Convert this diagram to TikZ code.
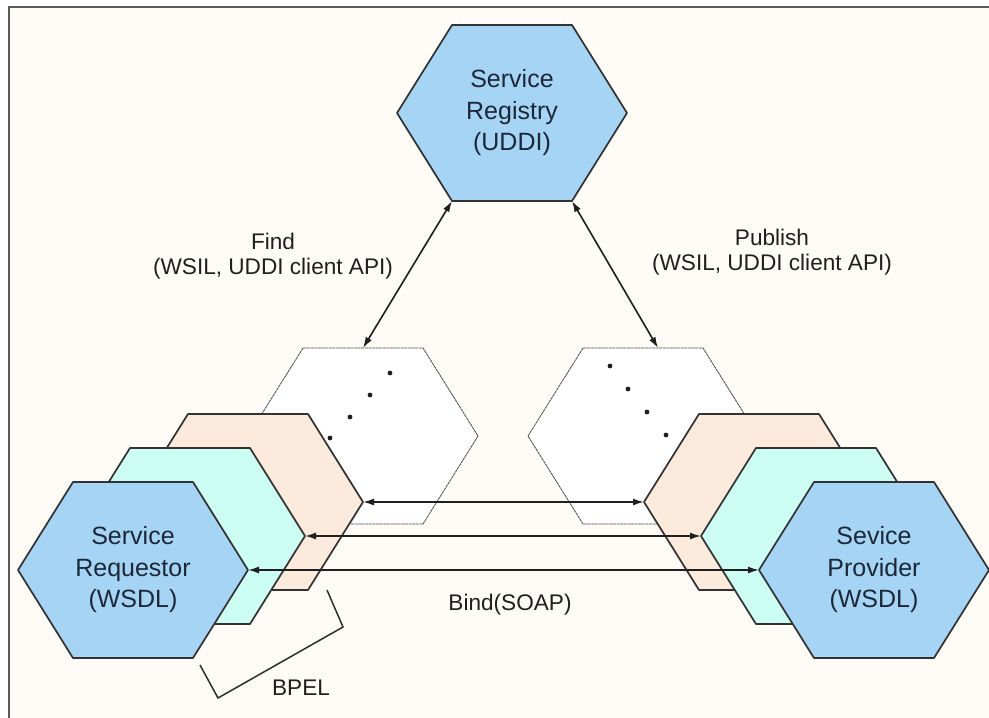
\documentclass[tikz,border=0pt]{standalone}
\usepackage{fontspec}
\setmainfont{Liberation Sans}
\usetikzlibrary{calc,arrows.meta}
\definecolor{bgcream}{RGB}{255,252,247}
\definecolor{hexblue}{RGB}{166,212,245}
\definecolor{hexcyan}{RGB}{205,254,244}
\definecolor{hexpeach}{RGB}{252,234,220}
\definecolor{hexline}{RGB}{50,50,50}
\definecolor{hextxt}{RGB}{28,40,55}
\definecolor{frameline}{RGB}{90,90,90}
\newcommand\drawhex[4]{%
  \coordinate (#1) at (#2,#3);
  \draw[#4] ($(#1)+(-115,0)$) coordinate (#1-W)
    -- ($(#1)+(-60,-88)$) coordinate (#1-NW)
    -- ($(#1)+(60,-88)$) coordinate (#1-NE)
    -- ($(#1)+(115,0)$) coordinate (#1-E)
    -- ($(#1)+(60,88)$) coordinate (#1-SE)
    -- ($(#1)+(-60,88)$) coordinate (#1-SW)
    -- cycle;
  \coordinate (#1-N) at ($(#1)+(0,-88)$);
}
\tikzset{
  hexmain/.style={fill=hexblue,draw=hexline,line width=1.7pt,line join=round},
  hexmid/.style={fill=hexcyan,draw=hexline,line width=1.7pt,line join=round},
  hexback/.style={fill=hexpeach,draw=hexline,line width=1.7pt,line join=round},
  hexghost/.style={fill=white,draw=black!70,line width=0.8pt,dash pattern=on 3pt off 0.6pt},
  hextext/.style={align=center,text=hextxt,font=\fontsize{25}{31.5}\selectfont,inner sep=0pt},
  lbl/.style={align=center,text=black!88,font=\fontsize{22.6}{25}\selectfont,inner sep=0pt},
  biarrow/.style={line width=1.6pt,draw=black!88,{Latex[length=11pt,width=7pt]}-{Latex[length=11pt,width=7pt]}},
  dotmark/.style={fill=black!88,draw=none},
  bracket/.style={line width=1.5pt,draw=black!82,line join=miter}
}
\begin{document}
\begin{tikzpicture}[x=1pt,y=-1pt]
\useasboundingbox (0,0) rectangle (989,718);
\fill[white] (0,0) rectangle (989,718);
\fill[bgcream] (9,7) rectangle (989,718);
\draw[frameline,line width=2pt] (9,718) -- (9,7) -- (989,7);

% registry
\drawhex{reg}{512}{113}{hexmain}

% left stack
\drawhex{dotL}{363}{436}{hexghost}
\drawhex{peachL}{248}{502}{hexback}
\drawhex{cyanL}{190}{536}{hexmid}
\drawhex{blueL}{133}{570}{hexmain}

% right stack
\drawhex{dotR}{643}{436}{hexghost}
\drawhex{peachR}{759}{502}{hexback}
\drawhex{cyanR}{816}{536}{hexmid}
\drawhex{blueR}{874}{570}{hexmain}

% dots
\foreach \px/\py in {390/373,370/395,350/417,330/438,610/366,628/389,647/412,666/435}
  \fill[dotmark] (\px,\py) circle (2.4pt);

% texts in hexes
\node[hextext] (regT) at (reg) {Service\\Registry\\(UDDI)};
\node[hextext] (reqT) at (blueL) {Service\\Requestor\\(WSDL)};
\node[hextext] (provT) at (blueR) {Sevice\\Provider\\(WSDL)};

% find / publish
\coordinate (pubEnd) at ($(dotR-N)+(15,0)$);
\draw[biarrow] (reg-SW) -- (dotL-N);
\draw[biarrow] (reg-SE) -- (pubEnd);
\node[lbl] (findT) at (273,256) {Find\\(WSIL, UDDI client API)};
\node[lbl] (pubT) at (772,252) {Publish\\(WSIL, UDDI client API)};

% bind lines
\draw[biarrow] (peachL-E) -- (peachR-W);
\draw[biarrow] (cyanL-E) -- (cyanR-W);
\draw[biarrow] (blueL-E) -- (blueR-W);
\node[lbl] (bindT) at (510,605) {Bind(SOAP)};

% BPEL bracket
\coordinate (bp1) at (327,590);
\coordinate (bp2) at (343,627);
\coordinate (bp3) at (218,698);
\coordinate (bp4) at (200,665);
\draw[bracket] (bp1) -- (bp2) -- (bp3) -- (bp4);
\node[lbl] (bpelT) at (301,688) {BPEL};
\end{tikzpicture}
\end{document}
